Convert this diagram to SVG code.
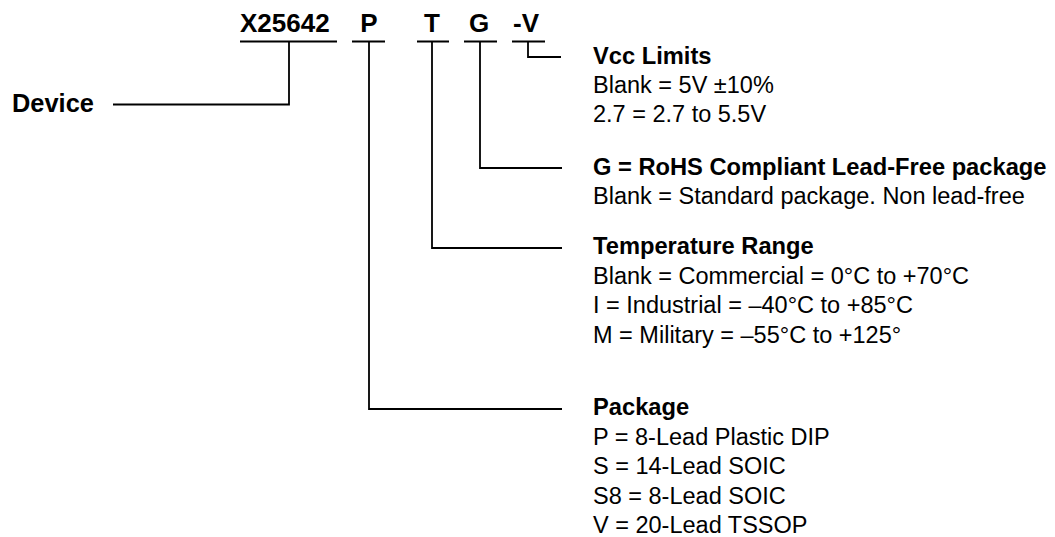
<svg xmlns="http://www.w3.org/2000/svg" width="1055" height="537" viewBox="0 0 1055 537">
<style>
.code{font-family:"Liberation Sans",Arial,sans-serif;font-weight:bold;font-size:26px;fill:#000}
.h{font-family:"Liberation Sans",Arial,sans-serif;font-weight:bold;font-size:23.7px;fill:#000}
.t{font-family:"Liberation Sans",Arial,sans-serif;font-size:23.5px;fill:#000}
.ln{fill:none;stroke:#000;stroke-width:1.8}
</style>
<rect width="1055" height="537" fill="#fff"/>
<g id="part-number">
<text class="code" x="240" y="32">X25642</text>
<text class="code" x="369" y="32" text-anchor="middle">P</text>
<text class="code" x="432" y="32" text-anchor="middle">T</text>
<text class="code" x="479" y="32" text-anchor="middle">G</text>
<text class="code" x="513" y="32">-V</text>
</g>
<g id="device">
<text class="code" x="12" y="112" style="font-size:25.4px">Device</text>
</g>
<g id="vcc">
<text class="h" x="593" y="64">Vcc Limits</text>
<text class="t" x="593" y="93">Blank = 5V ±10%</text>
<text class="t" x="593" y="122">2.7 = 2.7 to 5.5V</text>
</g>
<g id="rohs">
<text class="h" x="593" y="175">G = RoHS Compliant Lead-Free package</text>
<text class="t" x="593" y="204">Blank = Standard package. Non lead-free</text>
</g>
<g id="temperature">
<text class="h" x="593" y="254">Temperature Range</text>
<text class="t" x="593" y="283.5">Blank = Commercial = 0°C to +70°C</text>
<text class="t" x="593" y="313">I = Industrial = –40°C to +85°C</text>
<text class="t" x="593" y="342.5">M = Military = –55°C to +125°</text>
</g>
<g id="package">
<text class="h" x="593" y="415">Package</text>
<text class="t" x="593" y="444.5">P = 8-Lead Plastic DIP</text>
<text class="t" x="593" y="474">S = 14-Lead SOIC</text>
<text class="t" x="593" y="503.5">S8 = 8-Lead SOIC</text>
<text class="t" x="593" y="533">V = 20-Lead TSSOP</text>
</g>
<g id="connectors">
<path class="ln" d="M240 41.5H337M352 41.5H385M417 41.5H449M464 41.5H497M512 41.5H545"/>
<path class="ln" d="M289 41.5V104.5H113"/>
<path class="ln" d="M528 41.5V57H561"/>
<path class="ln" d="M480 41.5V168H562"/>
<path class="ln" d="M432 41.5V248H562"/>
<path class="ln" d="M369 41.5V409H562"/>
</g>
</svg>
